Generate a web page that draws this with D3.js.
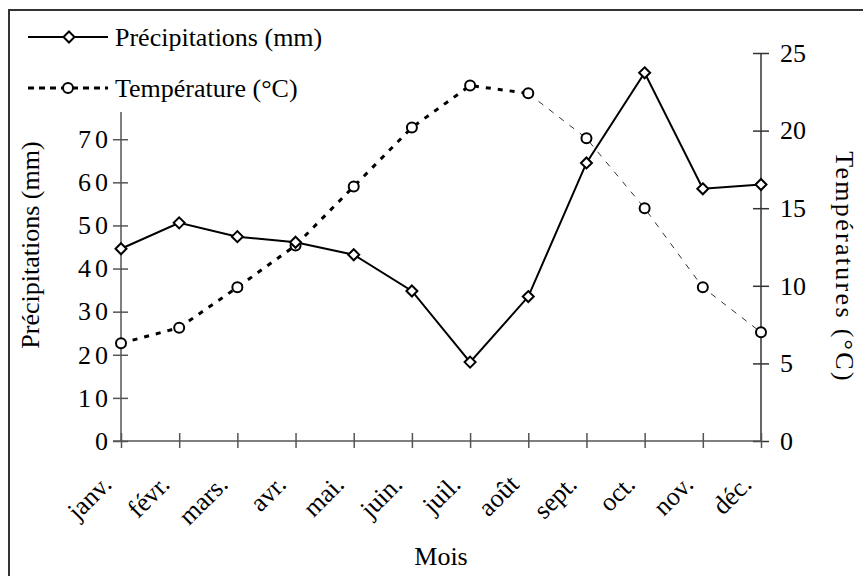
<!DOCTYPE html>
<html>
<head>
<meta charset="utf-8">
<script src="https://cdn.jsdelivr.net/npm/d3@7"></script>
<style>
  body { margin: 0; background: #fff; }
  text { font-family: "Liberation Serif", "Times New Roman", serif; fill: #000; }
</style>
</head>
<body>
<div id="chart"></div>
<script>
// data
var months = ["janv.", "févr.", "mars.", "avr.", "mai.", "juin.", "juil.", "août", "sept.", "oct.", "nov.", "déc."];
var precip = [44.6, 50.6, 47.4, 46.1, 43.2, 34.8, 18.3, 33.5, 64.5, 85.4, 58.5, 59.5];
var temp   = [6.3, 7.3, 9.9, 12.6, 16.4, 20.2, 22.9, 22.4, 19.5, 15.0, 9.9, 7.0];
var leftTicks  = [0, 10, 20, 30, 40, 50, 60, 70];
var rightTicks = [0, 5, 10, 15, 20, 25];

var width = 863, height = 576;
var fs = "26px";

var svg = d3.select("#chart")
  .append("svg")
    .attr("width", width)
    .attr("height", height);

// outer frame (only top/left visible)
svg.append("rect")
  .attr("x", 9).attr("y", 10)
  .attr("width", 900).attr("height", 600)
  .attr("fill", "none")
  .attr("stroke", "#333")
  .attr("stroke-width", 2);

var x = d3.scalePoint()
  .domain(months)
  .range([121, 761]);

var yL = d3.scaleLinear()
  .domain([0, 90])
  .range([441, 53]);

var yR = d3.scaleLinear()
  .domain([0, 25])
  .range([441, 53]);

var axisColor = "#555";

// left axis
var gL = svg.append("g")
  .attr("transform", "translate(" + x(months[0]) + ",0)")
  .call(d3.axisLeft(yL).tickValues(leftTicks).tickSize(8).tickPadding(1));
gL.select(".domain").remove();
gL.append("line")
  .attr("y1", yL(0)).attr("y2", yL(76.3))
  .attr("stroke", axisColor).attr("stroke-width", 1.5);
gL.selectAll(".tick line").attr("x1", -8).attr("x2", 7).attr("stroke", axisColor).attr("stroke-width", 1.5);
gL.selectAll(".tick text")
  .style("font-family", "Liberation Serif, serif")
  .style("font-size", fs)
  .style("letter-spacing", "4px")
  .attr("fill", "#000");

// right axis
var gR = svg.append("g")
  .attr("transform", "translate(" + x(months[11]) + ",0)")
  .call(d3.axisRight(yR).tickValues(rightTicks).tickSize(8).tickPadding(11));
gR.select(".domain").remove();
gR.append("line")
  .attr("y1", yR(0)).attr("y2", yR(25))
  .attr("stroke", "#333").attr("stroke-width", 1.5);
gR.selectAll(".tick line").attr("x1", -8).attr("x2", 8).attr("stroke", "#333").attr("stroke-width", 1.5);
gR.selectAll(".tick text")
  .style("font-family", "Liberation Serif, serif")
  .style("font-size", fs).attr("fill", "#000");

// bottom axis
var gX = svg.append("g")
  .attr("transform", "translate(0," + yL(0) + ")")
  .call(d3.axisBottom(x).tickSize(7).tickFormat(""));
gX.select(".domain").remove();
gX.append("line")
  .attr("x1", x(months[0]) - 8).attr("x2", x(months[11]))
  .attr("stroke", axisColor).attr("stroke-width", 1.5);
gX.selectAll(".tick line").attr("y1", -8).attr("y2", 7).attr("stroke", axisColor).attr("stroke-width", 1.5);

// month labels, rotated
svg.append("g").selectAll("text")
  .data(months)
  .enter().append("text")
    .attr("transform", function(d) { return "translate(" + (x(d) - 8) + "," + 486 + ") rotate(-45)"; })
    .attr("text-anchor", "end")
    .style("font-size", fs)
    .text(function(d) { return d; });

// axis titles
svg.append("text")
  .attr("transform", "translate(39,245) rotate(-90)")
  .attr("text-anchor", "middle")
  .style("font-size", fs)
  .text("Précipitations (mm)");

svg.append("text")
  .attr("transform", "translate(836,267) rotate(90)")
  .attr("text-anchor", "middle")
  .style("font-size", fs)
  .style("letter-spacing", "2.3px")
  .text("Températures (°C)");

svg.append("text")
  .attr("x", (x(months[0]) + x(months[11])) / 2)
  .attr("y", 565)
  .attr("text-anchor", "middle")
  .style("font-size", fs)
  .text("Mois");

// temperature line: heavy dashes up to août, thin dashes after
var lineT = d3.line()
  .x(function(d) { return x(d.m); })
  .y(function(d) { return yR(d.v); });

var tempData = months.map(function(m, i) { return {m: m, v: temp[i]}; });

svg.append("path")
  .datum(tempData.slice(0, 8))
  .attr("d", lineT)
  .attr("fill", "none")
  .attr("stroke", "#000")
  .attr("stroke-width", 3)
  .attr("stroke-dasharray", "5,7");

svg.append("path")
  .datum(tempData.slice(7))
  .attr("d", lineT)
  .attr("fill", "none")
  .attr("stroke", "#333")
  .attr("stroke-width", 1)
  .attr("stroke-dasharray", "6,7");

svg.append("g").selectAll("circle")
  .data(tempData)
  .enter().append("circle")
    .attr("cx", function(d) { return x(d.m); })
    .attr("cy", function(d) { return yR(d.v); })
    .attr("r", 5)
    .attr("fill", "#fff")
    .attr("stroke", "#000")
    .attr("stroke-width", 2);

// precipitation line
var precData = months.map(function(m, i) { return {m: m, v: precip[i]}; });

svg.append("path")
  .datum(precData)
  .attr("d", d3.line()
    .x(function(d) { return x(d.m); })
    .y(function(d) { return yL(d.v); }))
  .attr("fill", "none")
  .attr("stroke", "#000")
  .attr("stroke-width", 2);

var diamond = "M0,-5.5L5.5,0L0,5.5L-5.5,0Z";
svg.append("g").selectAll("path")
  .data(precData)
  .enter().append("path")
    .attr("d", diamond)
    .attr("transform", function(d) { return "translate(" + x(d.m) + "," + yL(d.v) + ")"; })
    .attr("fill", "#fff")
    .attr("stroke", "#000")
    .attr("stroke-width", 2);

// legend
var legend = svg.append("g");
legend.append("line")
  .attr("x1", 28).attr("x2", 108).attr("y1", 37).attr("y2", 37)
  .attr("stroke", "#000").attr("stroke-width", 2);
legend.append("path")
  .attr("d", diamond)
  .attr("transform", "translate(69,37)")
  .attr("fill", "#fff").attr("stroke", "#000").attr("stroke-width", 2);
legend.append("text")
  .attr("x", 115).attr("y", 46)
  .style("font-size", fs)
  .text("Précipitations (mm)");

legend.append("line")
  .attr("x1", 28).attr("x2", 108).attr("y1", 88).attr("y2", 88)
  .attr("stroke", "#000").attr("stroke-width", 3)
  .attr("stroke-dasharray", "6,5");
legend.append("circle")
  .attr("cx", 68).attr("cy", 88).attr("r", 5)
  .attr("fill", "#fff").attr("stroke", "#000").attr("stroke-width", 2);
legend.append("text")
  .attr("x", 115).attr("y", 97)
  .style("font-size", fs)
  .text("Température (°C)");
</script>
</body>
</html>
